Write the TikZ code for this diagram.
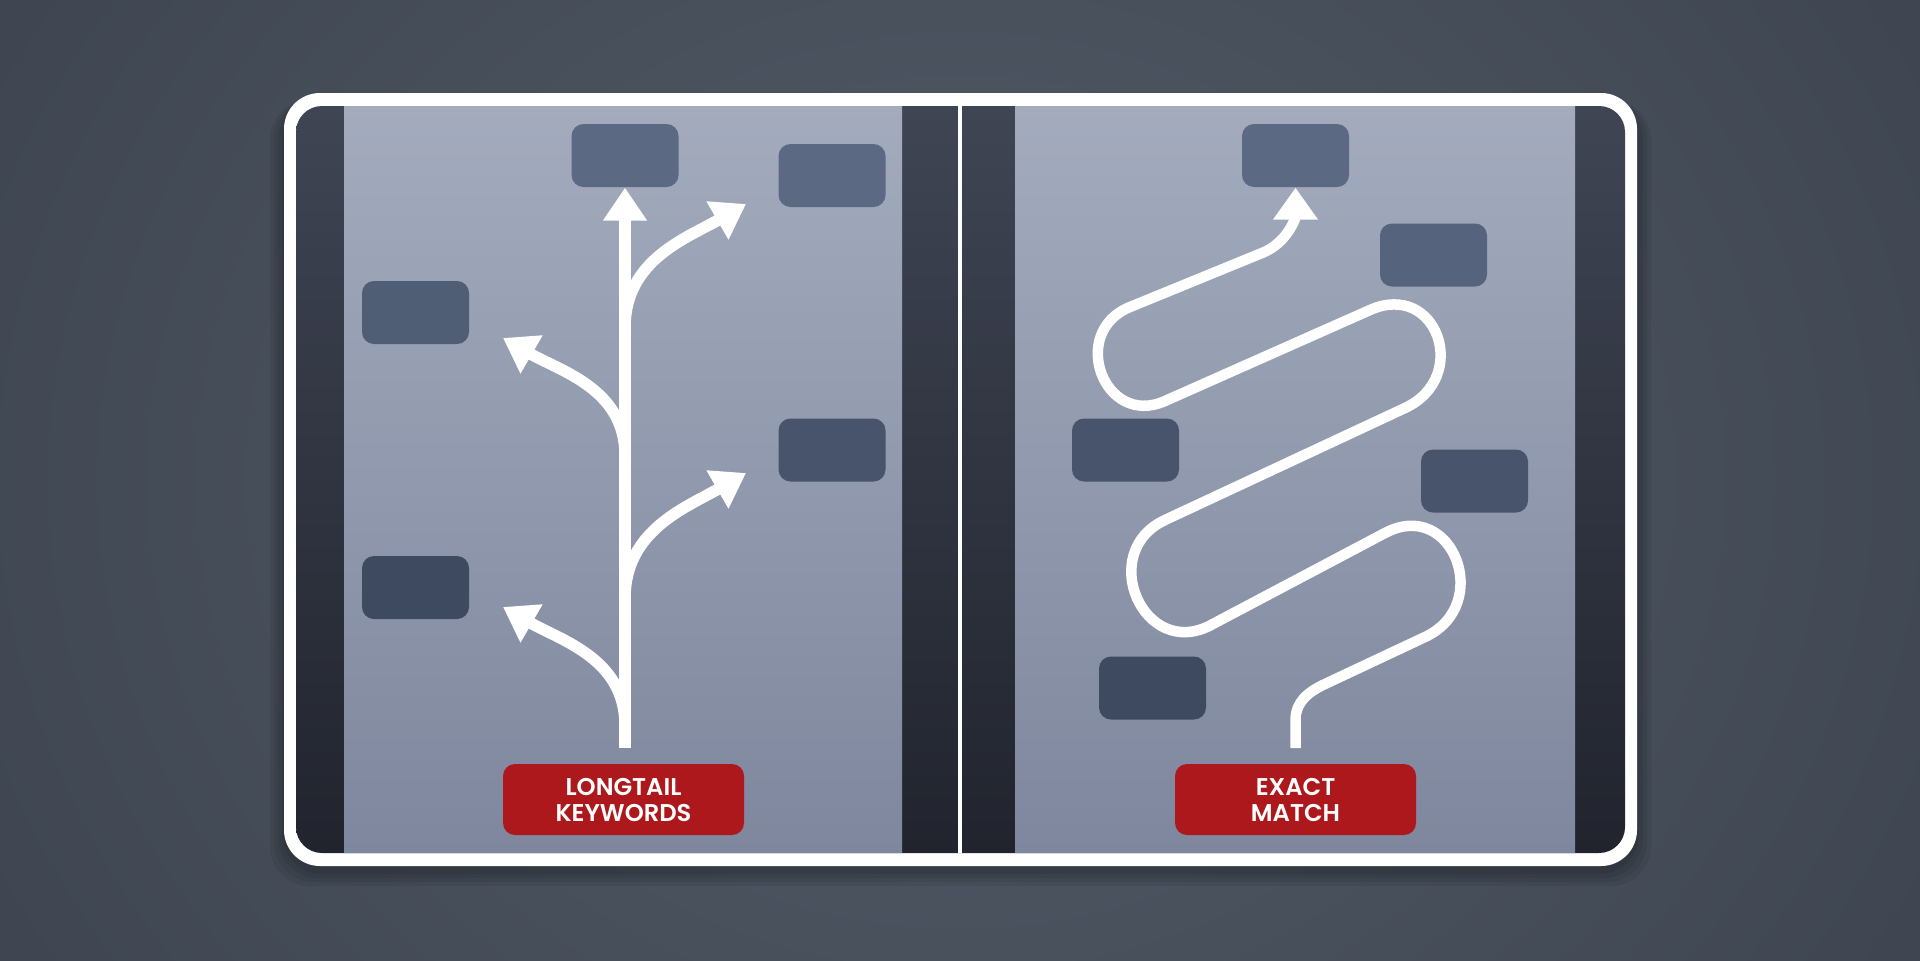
\documentclass[tikz,border=0pt]{standalone}
\usepackage{fontspec}
\setsansfont{Poppins}[BoldFont={* SemiBold}]
\usepackage{xcolor}
\usetikzlibrary{arrows.meta,positioning,calc}

\definecolor{bginner}{HTML}{535C69}
\definecolor{bgouter}{HTML}{2A2F38}
\definecolor{stripetop}{HTML}{404554}
\definecolor{stripebot}{HTML}{21242D}
\definecolor{paneltop}{HTML}{A3ABBD}
\definecolor{panelbot}{HTML}{7E879D}
\definecolor{tagred}{HTML}{AD181C}
\definecolor{cella}{HTML}{5B6983}
\definecolor{cellb}{HTML}{55637C}
\definecolor{cellc}{HTML}{4F5D75}
\definecolor{celld}{HTML}{47546B}
\definecolor{celle}{HTML}{3D4A60}

\begin{document}
\begin{tikzpicture}[
    cell/.style={fill=#1, rounded corners=1.2mm, minimum width=1.07cm,
      minimum height=0.63cm, inner sep=0pt},
    tag/.style={fill=tagred, rounded corners=1.2mm, minimum width=2.41cm,
      minimum height=0.71cm, inner sep=0pt, text=white, align=center,
      font=\sffamily\bfseries\fontsize{6.9pt}{7.4pt}\selectfont},
    flow/.style={draw=white, line width=1.15mm,
      -{Triangle[width=4.2mm,length=3.3mm]}},
    route/.style={draw=white, line width=1.05mm,
      -{Triangle[width=4.3mm,length=3.2mm]}}]
  \useasboundingbox (0,0) rectangle (19.2,9.6);
  % backdrop
  \begin{scope}
    \clip (0,0) rectangle (19.2,9.6);
    \shade[inner color=bginner, outer color=bgouter] (-12.6,-14.4) rectangle (31.8,24);
  \end{scope}
  \foreach \s in {0.02,0.06,0.10,0.14}
    \fill[black, opacity=0.07, rounded corners=0.4cm]
      (2.84-\s,0.88-\s) rectangle (16.37+\s,8.6);
  \fill[white, rounded corners=0.36cm] (2.84,0.94) rectangle (16.37,8.67);
  % panels
  \begin{scope}
    \clip[rounded corners=0.26cm] (2.96,1.07) rectangle (16.25,8.54);
    \shade[top color=stripetop, bottom color=stripebot] (2.96,1.07) rectangle (16.25,8.54);
    \shade[top color=paneltop, bottom color=panelbot] (3.44,1.07) rectangle (9.02,8.54);
    \shade[top color=paneltop, bottom color=panelbot] (10.15,1.07) rectangle (15.75,8.54);
    \fill[white] (9.58,1.07) rectangle (9.62,8.54);
  \end{scope}

  % left: longtail keywords
  \node[cell=cella] (lt) at (6.25,8.045) {};
  \node[cell=cella] (lr1) at (8.32,7.845) {};
  \node[cell=cellc] (ll1) at (4.155,6.475) {};
  \node[cell=celld] (lr2) at (8.32,5.10) {};
  \node[cell=celle] (ll2) at (4.155,3.725) {};
  \node[tag] (ltag) at (6.235,1.605) {LONGTAIL\\KEYWORDS};

  \coordinate (root) at (6.25,2.12);
  \coordinate (a0) at (6.25,6.33);
  \coordinate (a1) at (7.46,7.56);
  \coordinate (b0) at (6.25,5.05);
  \coordinate (b1) at (5.03,6.22);
  \coordinate (c0) at (6.25,3.62);
  \coordinate (c1) at (7.46,4.87);
  \coordinate (d0) at (6.25,2.35);
  \coordinate (d1) at (5.03,3.53);
  \draw[flow] (root) -- (lt.south);
  \draw[flow] (a0) to[out=90,in=210] (a1);
  \draw[flow] (b0) to[out=90,in=-30] (b1);
  \draw[flow] (c0) to[out=90,in=210] (c1);
  \draw[flow] (d0) to[out=90,in=-30] (d1);

  % right: exact match
  \node[cell=cella] (rt) at (12.955,8.045) {};
  \node[cell=cellb] (rr1) at (14.335,7.05) {};
  \node[cell=celld] (rl1) at (11.255,5.10) {};
  \node[cell=celld] (rr2) at (14.745,4.79) {};
  \node[cell=celle] (rl2) at (11.525,2.72) {};
  \node[tag] (rtag) at (12.955,1.605) {EXACT\\MATCH};

  \coordinate (s0) at (12.955,2.12);
  \coordinate (s1) at (12.955,2.40);
  \coordinate (s2) at (13.25,2.76);
  \coordinate (e1) at (14.25,3.23);
  \coordinate (s3) at (13.85,4.27);
  \coordinate (e2) at (12.11,3.35);
  \coordinate (s4) at (11.65,4.40);
  \coordinate (e3) at (14.05,5.52);
  \coordinate (s5) at (13.70,6.50);
  \coordinate (e4) at (11.65,5.59);
  \coordinate (s6) at (11.30,6.53);
  \coordinate (e5) at (12.62,7.07);
  \draw[route] (s0) -- (s1) to[out=90,in=205] (s2) -- (e1)
    to[out=25,in=28,looseness=1.75] (s3) -- (e2)
    to[out=208,in=205,looseness=1.7] (s4) -- (e3)
    to[out=25,in=24,looseness=1.8] (s5) -- (e4)
    to[out=204,in=202,looseness=1.7] (s6) -- (e5)
    to[out=22,in=-90] (rt.south);
\end{tikzpicture}
\end{document}
